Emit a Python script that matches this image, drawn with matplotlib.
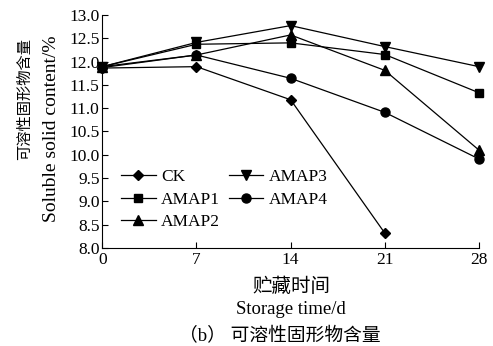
import numpy as np
import matplotlib
matplotlib.use('Agg')
import matplotlib.pyplot as plt

plt.rcParams['font.family'] = ['Liberation Serif', 'Noto Sans CJK SC']

# storage days and soluble solid content (%) for each treatment
days = [0, 7, 14, 21, 28]
ck = [11.86, 11.89, 11.18, 8.32]
amap1 = [11.89, 12.37, 12.40, 12.15, 11.33]
amap2 = [11.89, 12.14, 12.57, 11.81, 10.10]
amap3 = [11.89, 12.41, 12.77, 12.32, 11.89]
amap4 = [11.87, 12.14, 11.64, 10.91, 9.91]

labels = ['CK', 'AMAP1', 'AMAP2', 'AMAP3', 'AMAP4']
y_ticks = np.arange(8.0, 13.01, 0.5)

fig = plt.figure(figsize=(4.93, 3.46), dpi=100)
ax = fig.add_axes([0.2075, 0.283, 0.7641, 0.674])

kw = dict(color='black', lw=0.9, clip_on=False)
ax.plot(days[:len(ck)], ck, marker='D', ms=5.5, label=labels[0], **kw)
ax.plot(days, amap1, marker='s', ms=6, label=labels[1], **kw)
ax.plot(days, amap2, marker='^', ms=7, label=labels[2], **kw)
ax.plot(days, amap3, marker='v', ms=7, label=labels[3], **kw)
ax.plot(days, amap4, marker='o', ms=6.5, label=labels[4], **kw)

ax.set_xlim(0, 28)
ax.set_ylim(8.0, 13.0)
ax.set_xticks(days)
ax.set_yticks(y_ticks)
ax.set_yticklabels(['%.1f' % v for v in y_ticks])
ax.tick_params(direction='in', length=4, width=0.8, labelsize=12.5, pad=2)
ax.tick_params(axis='x', pad=3)
ax.spines['top'].set_visible(False)
ax.spines['right'].set_visible(False)

leg = ax.legend(ncol=2, loc='upper left', bbox_to_anchor=(0.05, 0.34),
                frameon=False, fontsize=12.5, handlelength=2.0,
                handletextpad=0.3, columnspacing=0.5, labelspacing=0.38,
                borderpad=0, borderaxespad=0)

# axis titles, Chinese above English
fig.text(25 / 493, 1 - 38 / 346, '可溶性固形物含量', rotation=90, va='top', ha='center',
         fontsize=11, family='Noto Sans CJK SC')
fig.text(52 / 493, 1 - 36 / 346, 'Soluble solid content/%', rotation=90, va='top', ha='center',
         fontsize=14)
fig.text(291 / 493, 1 - 286 / 346, '贮藏时间', va='center', ha='center',
         fontsize=14, family='Noto Sans CJK SC')
fig.text(291 / 493, 1 - 310 / 346, 'Storage time/d', va='center', ha='center', fontsize=13.5)
fig.text(280 / 493, 1 - 336 / 346, '（b） 可溶性固形物含量', va='center', ha='center', fontsize=13.5)

fig.savefig('out.png', dpi=100)
